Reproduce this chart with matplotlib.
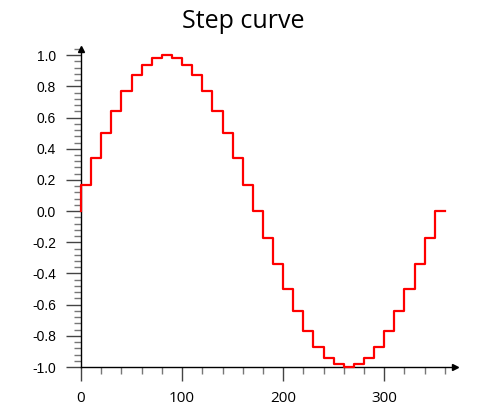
import matplotlib.pyplot as plt
from matplotlib.ticker import MultipleLocator

plt.rcParams['font.family'] = ['Open Sans', 'DejaVu Sans']
plt.rcParams['axes.unicode_minus'] = False

angles = [0, 10, 20, 30, 40, 50, 60, 70, 80, 90, 100, 110, 120, 130, 140, 150,
          160, 170, 180, 190, 200, 210, 220, 230, 240, 250, 260, 270, 280, 290,
          300, 310, 320, 330, 340, 350, 360]
values = [0.0, 0.17, 0.34, 0.5, 0.64, 0.77, 0.87, 0.94, 0.98, 1.0, 0.98, 0.94,
          0.87, 0.77, 0.64, 0.5, 0.34, 0.17, 0.0, -0.17, -0.34, -0.5, -0.64,
          -0.77, -0.87, -0.94, -0.98, -1.0, -0.98, -0.94, -0.87, -0.77, -0.64,
          -0.5, -0.34, -0.17, 0.0]
xticks = [0, 100, 200, 300]
yticks = [-1.0, -0.8, -0.6, -0.4, -0.2, 0.0, 0.2, 0.4, 0.6, 0.8, 1.0]

W, H = 478, 411
fig = plt.figure(figsize=(W / 100, H / 100), dpi=100)
ax = fig.add_axes([81 / W, (H - 367) / H, (455 - 81) / W, (367 - 49) / H])

ax.step(angles, values, where='pre', color='#ff0000', lw=1.6,
        zorder=5, clip_on=False)

ax.set_xlim(0, 370)
ax.set_ylim(-1.0, 1.04)
ax.set_xticks(xticks)
ax.set_yticks(yticks)
ax.set_yticklabels(["%.1f" % v for v in yticks], family='Liberation Sans',
                   fontsize=10)
ax.set_xticklabels([str(v) for v in xticks], fontsize=11)
ax.xaxis.set_minor_locator(MultipleLocator(20))
ax.yaxis.set_minor_locator(MultipleLocator(0.04))

for s in ["top", "right"]:
    ax.spines[s].set_visible(False)
for s in ["left", "bottom"]:
    ax.spines[s].set_linewidth(1.0)
    ax.spines[s].set_color("black")

ax.tick_params(axis='x', which='major', length=10, width=1, color='#444444',
               pad=7, labelcolor='black')
ax.tick_params(axis='y', which='major', length=11, width=1, color='#444444',
               pad=7, labelcolor='black')
ax.tick_params(which='minor', length=5, width=1, color='#777777')

# arrow heads at axis ends
ax.plot(0, 1, marker='^', color='black', markersize=5,
        transform=ax.transAxes, clip_on=False)
ax.plot(1, 0, marker='>', color='black', markersize=5,
        transform=ax.transAxes, clip_on=False)

fig.text(243 / W, 1 - 21 / H, "Step curve", fontsize=18,
         ha='center', va='center')

fig.savefig("out.png", dpi=100)
